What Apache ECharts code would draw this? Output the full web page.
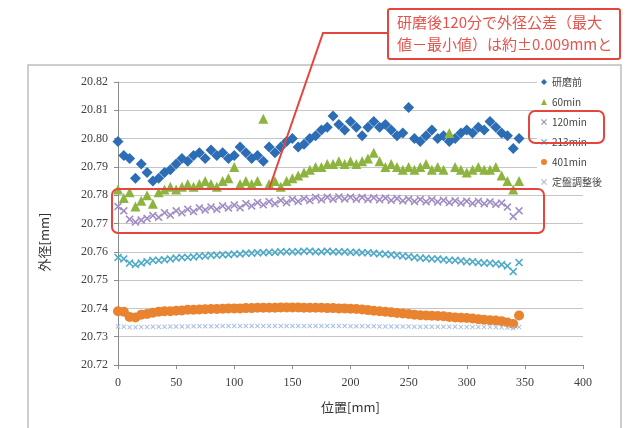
<!DOCTYPE html>
<html>
<head>
<meta charset="utf-8">
<script src="https://cdn.jsdelivr.net/npm/echarts@6/dist/echarts.min.js"></script>
<style>
  html, body { margin: 0; padding: 0; background: #fff; }
  #chart { width: 626px; height: 428px; }
</style>
</head>
<body>
<div id="chart"></div>
<script>
// Measurement positions along the part [mm]
const positions = [
  0, 5, 10, 15, 20, 25, 30, 35, 40, 45, 50, 55, 60, 65, 70, 75, 80, 85, 90, 95,
  100, 105, 110, 115, 120, 125, 130, 135, 140, 145, 150, 155, 160, 165, 170, 175, 180, 185, 190, 195,
  200, 205, 210, 215, 220, 225, 230, 235, 240, 245, 250, 255, 260, 265, 270, 275, 280, 285, 290, 295,
  300, 305, 310, 315, 320, 325, 330, 335, 340, 345
];

// Outer diameter [mm] for each state
const beforeGrinding = [
  20.799, 20.794, 20.793, 20.786, 20.791, 20.788, 20.785, 20.786, 20.788, 20.789,
  20.791, 20.793, 20.792, 20.794, 20.795, 20.793, 20.796, 20.794, 20.795, 20.793,
  20.794, 20.797, 20.795, 20.793, 20.794, 20.792, 20.797, 20.795, 20.797, 20.799,
  20.800, 20.797, 20.798, 20.800, 20.801, 20.803, 20.804, 20.808, 20.805, 20.803,
  20.806, 20.804, 20.801, 20.804, 20.806, 20.804, 20.805, 20.803, 20.801, 20.802,
  20.811, 20.800, 20.799, 20.801, 20.803, 20.800, 20.801, 20.799, 20.800, 20.802,
  20.803, 20.802, 20.804, 20.803, 20.806, 20.804, 20.802, 20.801, 20.7965, 20.800
];
const min60 = [
  20.782, 20.779, 20.781, 20.776, 20.778, 20.780, 20.777, 20.781, 20.782, 20.783,
  20.782, 20.783, 20.784, 20.783, 20.784, 20.785, 20.784, 20.783, 20.785, 20.786,
  20.790, 20.784, 20.785, 20.784, 20.785, 20.807, 20.784, 20.785, 20.783, 20.785,
  20.786, 20.787, 20.788, 20.789, 20.790, 20.790, 20.791, 20.791, 20.792, 20.791,
  20.792, 20.791, 20.792, 20.793, 20.795, 20.792, 20.790, 20.791, 20.790, 20.789,
  20.790, 20.789, 20.790, 20.791, 20.789, 20.790, 20.789, 20.802, 20.790, 20.789,
  20.788, 20.789, 20.790, 20.789, 20.789, 20.790, 20.787, 20.785, 20.782, 20.785
];
const min120 = [
  20.776, 20.7745, 20.7715, 20.7705, 20.7712, 20.7718, 20.7728, 20.7722, 20.7738, 20.7730,
  20.7745, 20.7738, 20.7750, 20.7742, 20.7755, 20.7748, 20.7758, 20.7750, 20.7762, 20.7755,
  20.7765, 20.7756, 20.7770, 20.7762, 20.7774, 20.7766, 20.7777, 20.7770, 20.7782, 20.7774,
  20.7785, 20.7778, 20.7788, 20.7781, 20.7792, 20.7784, 20.7793, 20.7786, 20.7794, 20.7787,
  20.7793, 20.7786, 20.7792, 20.7785, 20.7791, 20.7784, 20.7790, 20.7782, 20.7788, 20.7780,
  20.7786, 20.7778, 20.7785, 20.7777, 20.7784, 20.7776, 20.7782, 20.7774, 20.7780, 20.7772,
  20.7779, 20.7771, 20.7778, 20.7770, 20.7776, 20.7768, 20.7772, 20.7758, 20.7725, 20.7745
];
const min213 = [
  20.758, 20.7575, 20.756, 20.7555, 20.756, 20.7565, 20.757, 20.757, 20.7572, 20.7575,
  20.7578, 20.758, 20.758, 20.7582, 20.7585, 20.7585, 20.7588, 20.7588, 20.759, 20.759,
  20.7592, 20.7592, 20.7595, 20.7595, 20.7597, 20.7597, 20.7598, 20.7598, 20.760, 20.760,
  20.760, 20.760, 20.7602, 20.7602, 20.760, 20.760, 20.7602, 20.760, 20.760, 20.760,
  20.7598, 20.7598, 20.7597, 20.7597, 20.7595, 20.7593, 20.7592, 20.759, 20.7588, 20.7585,
  20.7583, 20.758, 20.7578, 20.7577, 20.7575, 20.7575, 20.7572, 20.757, 20.757, 20.7568,
  20.7565, 20.7565, 20.7562, 20.756, 20.756, 20.7558, 20.7555, 20.755, 20.753, 20.7562
];
const min401 = [
  20.739, 20.7388, 20.737, 20.7368, 20.7378, 20.738, 20.7385, 20.7388, 20.739, 20.739,
  20.7392, 20.7393, 20.7395, 20.7395, 20.7396, 20.7397, 20.7398, 20.7398, 20.7399, 20.740,
  20.740, 20.740, 20.7401, 20.7401, 20.7402, 20.7402, 20.7402, 20.7402, 20.7403, 20.7403,
  20.7403, 20.7403, 20.7402, 20.7402, 20.7402, 20.7402, 20.7401, 20.7401, 20.740, 20.740,
  20.7399, 20.7398, 20.7396, 20.7394, 20.7392, 20.739, 20.7388, 20.7386, 20.7384, 20.7382,
  20.738, 20.7378, 20.7376, 20.7375, 20.7374, 20.7373, 20.7372, 20.737, 20.7368, 20.7367,
  20.7366, 20.7364, 20.7362, 20.736, 20.7358, 20.7357, 20.7355, 20.735, 20.7345, 20.7375
];
const afterPlateAdjust = [
  20.7336, 20.7335, 20.7333, 20.7333, 20.7334, 20.7334, 20.7335, 20.7335, 20.7335, 20.7336,
  20.7336, 20.7336, 20.7336, 20.7337, 20.7337, 20.7337, 20.7337, 20.7337, 20.7338, 20.7338,
  20.7338, 20.7338, 20.7338, 20.7338, 20.7338, 20.7338, 20.7338, 20.7338, 20.7338, 20.7338,
  20.7338, 20.7338, 20.7338, 20.7338, 20.7338, 20.7338, 20.7338, 20.7338, 20.7338, 20.7338,
  20.7337, 20.7337, 20.7337, 20.7337, 20.7337, 20.7336, 20.7336, 20.7336, 20.7336, 20.7336,
  20.7336, 20.7335, 20.7335, 20.7335, 20.7335, 20.7335, 20.7335, 20.7335, 20.7335, 20.7334,
  20.7334, 20.7334, 20.7334, 20.7334, 20.7334, 20.7333, 20.7333, 20.7332, 20.733, 20.7334
];

// Axis ticks
const xTicks = { min: 0, max: 400, step: 50 };
const yTicks = { min: 20.72, max: 20.82, step: 0.01 };

const seriesNames = ['研磨前', '60min', '120min', '213min', '401min', '定盤調整後'];
const seriesValues = [beforeGrinding, min60, min120, min213, min401, afterPlateAdjust];

const CROSS = 'path://M0,1.4L1.4,0L5,3.6L8.6,0L10,1.4L6.4,5L10,8.6L8.6,10L5,6.4L1.4,10L0,8.6L3.6,5Z';
const styles = [
  { symbol: 'diamond', size: 11, color: '#2c6db5' },
  { symbol: 'triangle', size: 10, color: '#8db43f' },
  { symbol: CROSS, size: 8, color: '#a08cc4' },
  { symbol: CROSS, size: 8, color: '#4eaac8' },
  { symbol: 'circle', size: 10, color: '#e9832f' },
  { symbol: CROSS, size: 5, color: '#a9bfe0' }
];

const serif = '"Liberation Serif", "DejaVu Serif", serif';
const cjk = '"Noto Sans CJK JP", "Noto Sans", sans-serif';

const series = seriesNames.map((name, i) => ({
  name: name,
  type: 'scatter',
  symbol: styles[i].symbol,
  symbolSize: styles[i].size,
  itemStyle: { color: styles[i].color, opacity: 1 },
  data: positions.map((p, k) => [p, seriesValues[i][k]]),
  z: 2 + i
}));

const chart = echarts.init(document.getElementById('chart'), null, { renderer: 'canvas' });
chart.setOption({
  animation: false,
  backgroundColor: '#ffffff',
  grid: { left: 118, right: 43, top: 82, bottom: 63, containLabel: false },
  xAxis: {
    type: 'value',
    min: xTicks.min, max: xTicks.max, interval: xTicks.step,
    name: '位置[mm]', nameLocation: 'middle', nameGap: 36,
    nameTextStyle: { fontFamily: cjk, fontSize: 13, color: '#333' },
    axisLine: { show: true, lineStyle: { color: '#8c8c8c', width: 1 } },
    axisTick: { show: true, length: 4, lineStyle: { color: '#8c8c8c' } },
    axisLabel: { fontFamily: serif, fontSize: 12, color: '#404040', margin: 12 },
    splitLine: { show: false }
  },
  yAxis: {
    type: 'value',
    min: yTicks.min, max: yTicks.max, interval: yTicks.step,
    axisLine: { show: true, lineStyle: { color: '#8c8c8c', width: 1 } },
    axisTick: { show: true, length: 4, lineStyle: { color: '#8c8c8c' } },
    axisLabel: { fontFamily: serif, fontSize: 12, color: '#404040', margin: 10,
                 formatter: v => v.toFixed(2) },
    splitLine: { show: true, lineStyle: { color: '#c6c6c6', width: 1 } }
  },
  legend: {
    orient: 'vertical',
    left: 537, top: 74,
    backgroundColor: '#ffffff',
    padding: [3, 4, 3, 4],
    itemWidth: 6, itemHeight: 6, itemGap: 10,
    textStyle: { fontFamily: cjk, fontSize: 10, color: '#444' },
    data: seriesNames
  },
  series: series,
  graphic: [
    // chart frame
    { type: 'rect', shape: { x: 28, y: 65, width: 593, height: 380 },
      style: { fill: 'none', stroke: '#bdbdbd', lineWidth: 1.5 }, z: -10, silent: true },
    // y-axis title
    { type: 'text', x: 44, y: 242, rotation: Math.PI / 2,
      style: { text: '外径[mm]', fill: '#333', font: '13px ' + cjk,
               textAlign: 'center', textVerticalAlign: 'middle' } },
    // highlight of the 120min band
    { type: 'rect', shape: { x: 112, y: 189, width: 432, height: 44, r: 6 },
      style: { fill: 'none', stroke: '#e5453d', lineWidth: 2 }, z: 100 },
    // highlight of the 120min legend entry
    { type: 'rect', shape: { x: 529, y: 111, width: 75, height: 32, r: 6 },
      style: { fill: 'none', stroke: '#e5453d', lineWidth: 2 }, z: 100 },
    // callout leader line
    { type: 'polyline', shape: { points: [[388, 33], [323, 33], [269, 189]] },
      style: { fill: 'none', stroke: '#e5453d', lineWidth: 2 }, z: 100 },
    // callout box
    { type: 'rect', shape: { x: 388, y: 9, width: 232, height: 50, r: 2 },
      style: { fill: '#ffffff', stroke: '#e5453d', lineWidth: 2 }, z: 100 },
    { type: 'text', x: 397, y: 22,
      style: { text: '研磨後120分で外径公差（最大', fill: '#e5534b', font: '15px ' + cjk,
               textVerticalAlign: 'middle' }, z: 101 },
    { type: 'text', x: 397, y: 44,
      style: { text: '値－最小値）は約±0.009mmと', fill: '#e5534b', font: '15px ' + cjk,
               textVerticalAlign: 'middle' }, z: 101 }
  ]
});
</script>
</body>
</html>
